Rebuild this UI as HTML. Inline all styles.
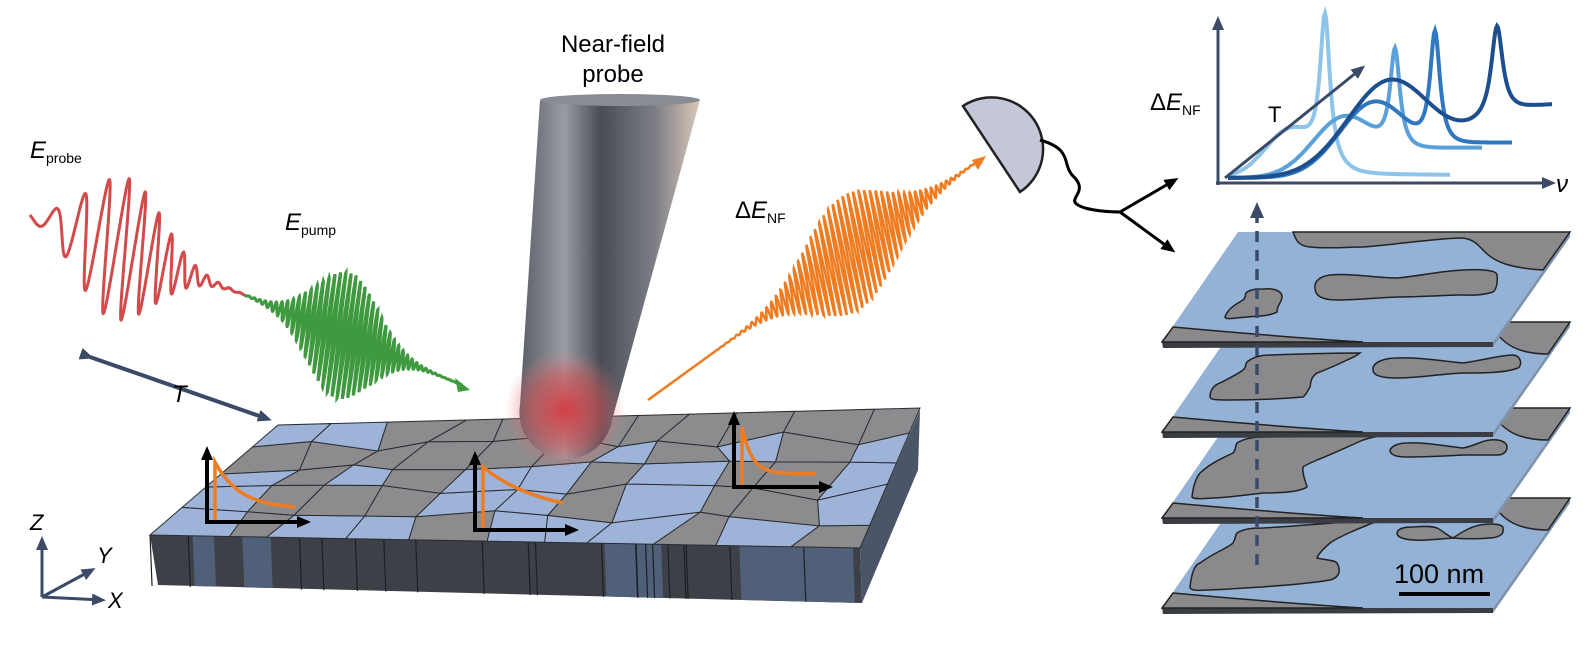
<!DOCTYPE html>
<html><head><meta charset="utf-8"><style>
html,body{margin:0;padding:0;background:#fff}
svg{display:block}
text{font-family:"Liberation Sans",sans-serif}
</style></head><body>
<svg id="s" width="1595" height="647" viewBox="0 0 1595 647" xmlns="http://www.w3.org/2000/svg">
<defs>
<linearGradient id="pg" x1="0" x2="1" y1="0" y2="0">
<stop offset="0" stop-color="#5a5d66"/><stop offset="0.25" stop-color="#9a9ca4"/><stop offset="0.45" stop-color="#4a4c55"/><stop offset="0.75" stop-color="#7d7e85"/><stop offset="1" stop-color="#d9c8b8"/>
</linearGradient>
<radialGradient id="glow"><stop offset="0" stop-color="#d8353a" stop-opacity="0.9"/><stop offset="0.6" stop-color="#e05050" stop-opacity="0.5"/><stop offset="1" stop-color="#f08080" stop-opacity="0"/></radialGradient>
<marker id="ab" markerWidth="14" markerHeight="12" refX="10" refY="6" orient="auto" markerUnits="userSpaceOnUse"><path d="M0,0 L14,6 L0,12 Z" fill="#3b4a66"/></marker>
<marker id="ak" markerWidth="14" markerHeight="12" refX="10" refY="6" orient="auto" markerUnits="userSpaceOnUse"><path d="M0,0 L14,6 L0,12 Z" fill="#000"/></marker>
</defs>
<g id="slab"></g>
<g id="waves"></g>
<path d="M540,100 L700,100 L612,420 A46,46 0 0 1 520,405 Z" fill="url(#pg)"/>
<ellipse cx="620" cy="100" rx="80" ry="6" fill="#8a8c94"/>
<circle cx="565" cy="410" r="60" fill="url(#glow)"/>
<text x="613" y="52" font-size="24" text-anchor="middle">Near-field</text>
<text x="613" y="82" font-size="24" text-anchor="middle">probe</text>
<text x="30" y="158" font-size="24" font-style="italic">E<tspan font-size="14" font-style="normal" dy="5">probe</tspan></text>
<text x="285" y="230" font-size="24" font-style="italic">E<tspan font-size="14" font-style="normal" dy="5">pump</tspan></text>
<text x="735" y="218" font-size="24">Δ<tspan font-style="italic">E</tspan><tspan font-size="14" dy="5">NF</tspan></text>
<line x1="90" y1="357" x2="268" y2="419" stroke="#3b4a66" stroke-width="4" marker-end="url(#ab)" marker-start="url(#ab)"/>
<text x="172" y="402" font-size="24" font-style="italic">T</text>
<g stroke="#3b4a66" stroke-width="3" fill="none">
<line x1="42" y1="597" x2="42" y2="540" marker-end="url(#ab)"/>
<line x1="42" y1="597" x2="92" y2="570" marker-end="url(#ab)"/>
<line x1="42" y1="597" x2="102" y2="600" marker-end="url(#ab)"/>
</g>
<text x="30" y="530" font-size="22" font-style="italic">Z</text>
<text x="97" y="563" font-size="22" font-style="italic">Y</text>
<text x="108" y="608" font-size="22" font-style="italic">X</text>
<path d="M963,106 L1020,192 A51,51 0 0 0 963,106 Z" fill="#c4c7d8" stroke="#222" stroke-width="2.5"/>
<path d="M1040,140 C1075,150 1060,165 1075,178 C1090,195 1060,200 1085,208 C1100,212 1115,212 1122,212" fill="none" stroke="#000" stroke-width="3"/>
<line x1="1120" y1="212" x2="1175" y2="180" stroke="#000" stroke-width="3" marker-end="url(#ak)"/>
<line x1="1120" y1="212" x2="1172" y2="250" stroke="#000" stroke-width="3" marker-end="url(#ak)"/>
<g id="graph"></g>
<line x1="1218" y1="185" x2="1218" y2="20" stroke="#3b4a66" stroke-width="3" marker-end="url(#ab)"/>
<line x1="1216" y1="183" x2="1552" y2="183" stroke="#3b4a66" stroke-width="3" marker-end="url(#ab)"/>
<line x1="1225" y1="178" x2="1362" y2="68" stroke="#3b4a66" stroke-width="3" marker-end="url(#ab)"/>
<text x="1556" y="192" font-size="24" font-style="italic" font-family="Liberation Serif">ν</text>
<text x="1268" y="122" font-size="22">T</text>
<text x="1150" y="110" font-size="24">Δ<tspan font-style="italic">E</tspan><tspan font-size="14" dy="5">NF</tspan></text>
<g id="plates"></g>
<line x1="1257" y1="565" x2="1257" y2="218" stroke="#3b4a66" stroke-width="3.5" stroke-dasharray="11,8"/>
<path d="M1250,218 L1257,202 L1264,218 Z" fill="#3b4a66"/>
<text x="1394" y="583" font-size="27">100 nm</text>
<line x1="1399" y1="594" x2="1490" y2="594" stroke="#000" stroke-width="4"/>
<g id="insets"></g>
</svg>
<script>
var NS="http://www.w3.org/2000/svg";
function el(p,t,a){var e=document.createElementNS(NS,t);for(var k in a)e.setAttribute(k,a[k]);document.getElementById(p).appendChild(e);return e;}
var seed=7;function rnd(){seed=(seed*16807)%2147483647;return seed/2147483647;}
var FL=[150,535],FR=[860,548],BL=[278,425],BR=[920,408];
function P(u,v){var a=[FL[0]+(FR[0]-FL[0])*u,FL[1]+(FR[1]-FL[1])*u],b=[BL[0]+(BR[0]-BL[0])*u,BL[1]+(BR[1]-BL[1])*u];return [a[0]+(b[0]-a[0])*v,a[1]+(b[1]-a[1])*v];}
el("slab","polygon",{points:"150,535 860,548 862,603 158,585",fill:"#3d4047"});
el("slab","polygon",{points:"860,548 920,410 918,470 862,603",fill:"#4a5568"});
var st=[[0.06,0.09],[0.13,0.17],[0.64,0.72],[0.83,0.99]];
st.forEach(function(s){var a=s[0],b=s[1];var x1=150+710*a,x2=150+710*b;el("slab","polygon",{points:x1+","+(535+13*a)+" "+x2+","+(535+13*b)+" "+(x2+2)+","+(585+18*b)+" "+(x1+2)+","+(585+18*a),fill:"#4f6078"});});
for(var i=0;i<20;i++){var u=rnd();var x=150+710*u;el("slab","line",{x1:x,y1:535+13*u,x2:x+2,y2:586+17*u,stroke:"#1d1f24","stroke-width":1.2});}
var NU=11,NV=5,G=[];
for(var i=0;i<=NU;i++){G[i]=[];for(var j=0;j<=NV;j++){var u=i/NU,v=j/NV;if(i>0&&i<NU)u+=(rnd()-0.5)*0.05;if(j>0&&j<NV)v+=(rnd()-0.5)*0.12;G[i][j]=P(u,v);}}
for(var i=0;i<NU;i++)for(var j=0;j<NV;j++){var q=[G[i][j],G[i+1][j],G[i+1][j+1],G[i][j+1]];el("slab","polygon",{points:q.map(function(p){return p.join(",")}).join(" "),fill:rnd()<0.45?"#9db4d8":"#8c8c8e",stroke:"#2a2c30","stroke-width":1});}
function wave(x0,y0,x1,y1,amp,cen,sig,f0,f1,col,w){var dx=x1-x0,dy=y1-y0,L=Math.hypot(dx,dy),ty=dy/L,nx=-ty;var d="",ph=0,N=1400;for(var k=0;k<=N;k++){var s=k/N;var fr=f0+(f1-f0)*s;ph+=2*Math.PI*fr*L/N;var A=amp*Math.exp(-Math.pow((s-cen)/sig,2));var o=A*Math.sin(ph);var px=x0+dx*s,py=y0+dy*s;d+=(k?"L":"M")+(px+nx*o*0.35).toFixed(1)+","+(py+o).toFixed(1);}el("waves","path",{d:d,fill:"none",stroke:col,"stroke-width":w});}
wave(30,215,245,295,70,0.42,0.25,0.025,0.09,"#d34a4a",3);
wave(245,295,462,385,62,0.45,0.2,0.17,0.2,"#3f9a3f",3);
wave(648,400,975,163,55,0.62,0.17,0.15,0.17,"#f07c22",2.5);
el("waves","path",{d:"M470,390 L455,378 L458,392 Z",fill:"#3f9a3f"});
el("waves","path",{d:"M986,156 L972,160 L978,170 Z",fill:"#f07c22"});
function lor(x,c,g){return 1/(1+Math.pow((x-c)/g,2));}
function gs(x,c,s){return Math.exp(-Math.pow((x-c)/s,2));}
function sg(x,c,s){return 1/(1+Math.exp(-(x-c)/s));}
var cs=[
 {c:"#8ec3ea",xe:1450,f:function(x){return 178-146*lor(x,1325,6)-45*gs(x,1290,35)-3*sg(x,1300,30);}},
 {c:"#5ba0d8",xe:1482,f:function(x){return 178-100*lor(x,1395,6)-60*gs(x,1345,45)-30*sg(x,1400,15);}},
 {c:"#2f78c0",xe:1512,f:function(x){return 178-115*lor(x,1435,6)-75*gs(x,1375,50)-35*sg(x,1440,15);}},
 {c:"#1d4f8e",xe:1552,f:function(x){return 178-92*lor(x,1497,7)-95*gs(x,1390,60)-75*sg(x,1470,25);}}
];
cs.forEach(function(c){var d="";for(var x=1228;x<=c.xe;x+=1){var y=c.f(x);d+=(x==1228?"M":"L")+x+","+y.toFixed(1);}el("graph","path",{d:d,fill:"none",stroke:c.c,"stroke-width":4});});
var PD=[
 {t:498,blobs:["M1190,587 C1192,570 1195,565 1200,563 C1215,552 1228,548 1233,543 C1236,538 1235,535 1237,533 C1245,528 1255,528 1263,528 C1300,526 1340,522 1380,520 C1360,528 1340,536 1330,543 C1322,550 1318,555 1317,558 C1325,560 1335,560 1337,563 C1342,572 1338,578 1330,580 C1300,585 1270,586 1263,587 C1240,588 1220,590 1207,590 C1195,591 1190,590 1190,587 Z","M1397,533 C1398,528 1405,527 1413,527 C1425,526 1432,526 1437,528 C1443,531 1448,536 1453,538 C1462,532 1470,527 1480,525 C1492,523 1503,524 1503,528 C1504,533 1502,537 1490,538 C1478,539 1465,539 1453,538 C1440,539 1425,541 1413,540 C1402,539 1397,537 1397,533 Z"]},
 {t:408,blobs:["M1192,497 C1193,487 1196,478 1200,473 C1212,462 1225,457 1233,453 C1236,450 1235,446 1237,443 C1245,438 1255,437 1263,437 C1300,436 1340,435 1383,435 C1375,437 1368,438 1363,440 C1345,448 1330,455 1317,460 C1308,464 1304,466 1303,467 C1302,475 1306,482 1307,487 C1300,492 1280,493 1263,493 C1245,495 1225,498 1213,498 C1200,499 1193,499 1192,497 Z","M1390,450 C1392,446 1398,443 1407,443 C1425,442 1445,446 1463,448 C1475,446 1483,440 1490,440 C1500,439 1507,442 1507,447 C1507,452 1503,455 1497,455 C1485,455 1475,455 1463,455 C1445,456 1425,457 1407,457 C1396,457 1390,455 1390,450 Z"]},
 {t:322,blobs:["M1210,397 C1210,390 1214,385 1220,383 C1230,378 1238,374 1243,370 C1247,367 1245,364 1247,362 C1253,357 1262,355 1270,355 C1300,354 1330,353 1360,353 C1356,356 1352,358 1347,360 C1335,366 1325,370 1317,373 C1310,378 1311,383 1310,387 C1307,392 1306,395 1303,397 C1280,399 1255,400 1230,400 C1218,400 1210,400 1210,397 Z","M1373,370 C1372,362 1385,358 1397,358 C1420,357 1440,361 1463,363 C1480,361 1500,355 1513,355 C1522,356 1522,366 1518,368 C1505,373 1485,373 1463,373 C1440,374 1418,378 1397,378 C1383,378 1373,376 1373,370 Z"]},
 {t:232,blobs:["M1225,317 C1228,308 1238,303 1243,300 C1247,297 1244,294 1247,292 C1252,289 1258,289 1263,289 C1272,288 1282,290 1282,297 C1282,302 1277,305 1277,312 C1270,316 1258,316 1247,317 C1235,318 1225,320 1225,317 Z","M1315,288 C1314,280 1322,276 1330,275 C1352,273 1375,278 1397,278 C1420,276 1440,271 1463,270 C1480,269 1497,270 1497,275 C1498,283 1496,290 1493,292 C1480,296 1470,295 1457,295 C1435,296 1415,297 1397,297 C1375,298 1355,300 1337,300 C1322,300 1315,296 1315,288 Z"]}
];
PD.forEach(function(p,idx){var t=p.t,f=t+110;var g=el("plates","g",{});
function add(tag,a){var e=document.createElementNS(NS,tag);for(var k in a)e.setAttribute(k,a[k]);g.appendChild(e);}
add("polygon",{points:"1162,"+f+" 1493,"+f+" 1493,"+(f+5)+" 1163,"+(f+6),fill:"#3a3d44"});
add("polygon",{points:"1493,"+f+" 1570,"+t+" 1570,"+(t+5)+" 1493,"+(f+5),fill:"#7f93ad"});
add("polygon",{points:"1238,"+t+" 1570,"+t+" 1493,"+f+" 1162,"+f,fill:"#94b1d6"});
add("path",{d:"M1162,"+f+" L1173,"+(f-15)+" C1250,"+(f-8)+" 1330,"+(f-2)+" 1363,"+f+" Z",fill:"#8a8a8c",stroke:"#222","stroke-width":1.5});
if(idx==3){add("path",{d:"M1570,232 L1293,232 C1296,240 1298,246 1310,247 C1330,249 1345,247 1363,247 C1400,244 1440,238 1463,238 C1475,240 1478,245 1485,252 C1495,262 1510,268 1543,270 Z",fill:"#8a8a8c",stroke:"#222","stroke-width":1.5});}
else{add("path",{d:"M1570,"+t+" L1490,"+t+" C1500,"+(t+22)+" 1518,"+(t+32)+" 1548,"+(t+32)+" Z",fill:"#8a8a8c",stroke:"#222","stroke-width":1.5});}
p.blobs.forEach(function(b){add("path",{d:b,fill:"#8a8a8c",stroke:"#222","stroke-width":1.5});});
});
function inset(ox,oy,w,h,dec){var a={stroke:"#000","stroke-width":4,fill:"none"};
el("insets","line",Object.assign({x1:ox,y1:oy,x2:ox,y2:oy-h,"marker-end":"url(#ak)"},a));
el("insets","line",Object.assign({x1:ox-2,y1:oy,x2:ox+w,y2:oy,"marker-end":"url(#ak)"},a));
var d="M"+(ox+8)+","+(oy-2)+" L"+(ox+8)+","+(oy-h+12);for(var x=0;x<=w-20;x+=2){d+=" L"+(ox+8+x)+","+(oy-h+12+(h*0.65)*(1-Math.exp(-x/dec))).toFixed(1);}
el("insets","path",{d:d,stroke:"#f07c22","stroke-width":3.5,fill:"none"});}
inset(207,522,100,72,25);inset(475,530,100,75,60);inset(734,487,95,72,10);
</script>
</body></html>
